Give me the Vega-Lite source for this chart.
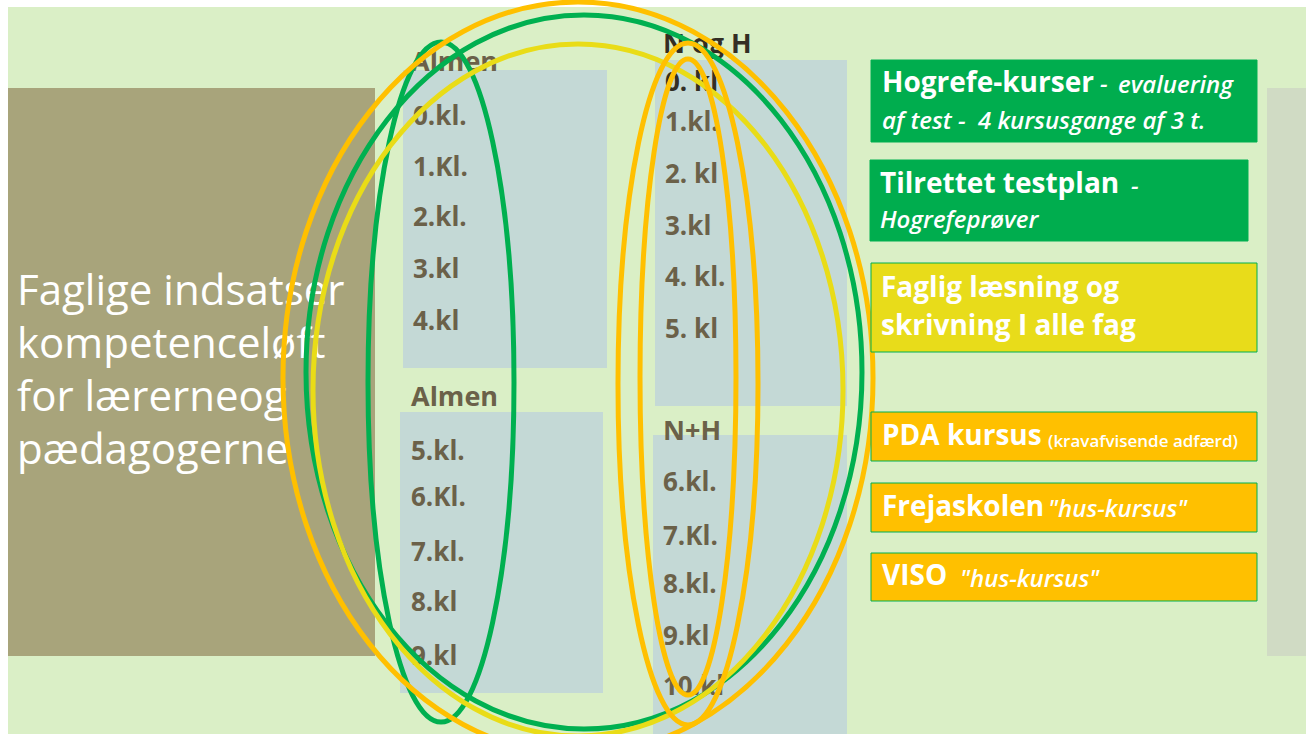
{
  "$schema": "https://vega.github.io/schema/vega-lite/v6.json",
  "autosize": {"type": "none"},
  "width": 1309,
  "height": 734,
  "padding": 0,
  "background": "#ffffff",
  "config": {"view": {"stroke": null}},
  "resolve": {"scale": {"color": "independent"}},
  "datasets": {
    "rects": [
      {"name": "bg", "kind": "bg", "x": 8, "x2": 1306, "y": 7, "y2": 734},
      {"name": "left", "kind": "brown", "x": 8, "x2": 375, "y": 88, "y2": 656},
      {"name": "strip", "kind": "strip", "x": 1267, "x2": 1306, "y": 88, "y2": 656},
      {"name": "almen1", "kind": "box", "x": 403, "x2": 607, "y": 70, "y2": 368},
      {"name": "almen2", "kind": "box", "x": 400, "x2": 603, "y": 412, "y2": 693},
      {"name": "nh1", "kind": "box", "x": 655, "x2": 847, "y": 60, "y2": 406},
      {"name": "nh2", "kind": "box", "x": 653, "x2": 847, "y": 435, "y2": 734}
    ],
    "courses": [
      {"name": "Hogrefe-kurser", "kind": "green", "x": 871, "x2": 1257, "y": 60, "y2": 142},
      {"name": "Tilrettet testplan", "kind": "green", "x": 870, "x2": 1248, "y": 160, "y2": 241},
      {"name": "Faglig læsning", "kind": "yellow", "x": 871, "x2": 1257, "y": 263, "y2": 352},
      {"name": "PDA", "kind": "orange", "x": 871, "x2": 1257, "y": 412, "y2": 461},
      {"name": "Frejaskolen", "kind": "orange", "x": 871, "x2": 1257, "y": 483, "y2": 532},
      {"name": "VISO", "kind": "orange", "x": 871, "x2": 1257, "y": 553, "y2": 601}
    ],
    "title": [
      {"text": ["Faglige indsatser", "kompetenceløft", "for lærerneog", "pædagogerne"], "x": 17, "y": 292}
    ],
    "grades": [
      {"text": "Almen", "group": "head", "x": 411, "y": 63},
      {"text": "0.kl.", "group": "grade", "x": 413, "y": 117},
      {"text": "1.Kl.", "group": "grade", "x": 413, "y": 168},
      {"text": "2.kl.", "group": "grade", "x": 413, "y": 218},
      {"text": "3.kl", "group": "grade", "x": 413, "y": 270},
      {"text": "4.kl", "group": "grade", "x": 413, "y": 322},
      {"text": "Almen", "group": "head", "x": 411, "y": 398},
      {"text": "5.kl.", "group": "grade", "x": 411, "y": 452},
      {"text": "6.Kl.", "group": "grade", "x": 411, "y": 498},
      {"text": "7.kl.", "group": "grade", "x": 411, "y": 553},
      {"text": "8.kl", "group": "grade", "x": 411, "y": 603},
      {"text": "9.kl", "group": "grade", "x": 411, "y": 657},
      {"text": "N og H", "group": "darkhead", "x": 663, "y": 45},
      {"text": "0. kl", "group": "dark", "x": 665, "y": 83},
      {"text": "1.kl.", "group": "grade", "x": 665, "y": 123},
      {"text": "2. kl", "group": "grade", "x": 665, "y": 175},
      {"text": "3.kl", "group": "grade", "x": 665, "y": 227},
      {"text": "4. kl.", "group": "grade", "x": 665, "y": 278},
      {"text": "5. kl", "group": "grade", "x": 665, "y": 330},
      {"text": "N+H", "group": "head", "x": 663, "y": 432},
      {"text": "6.kl.", "group": "grade", "x": 663, "y": 483},
      {"text": "7.Kl.", "group": "grade", "x": 663, "y": 537},
      {"text": "8.kl.", "group": "grade", "x": 663, "y": 585},
      {"text": "9.kl", "group": "grade", "x": 663, "y": 637},
      {"text": "10.kl", "group": "grade", "x": 663, "y": 687}
    ],
    "ellipses": [
      {"name": "almen", "x": 441, "y": 382},
      {"name": "outer", "x": 578, "y": 378},
      {"name": "green", "x": 584, "y": 372},
      {"name": "yellow", "x": 578, "y": 390},
      {"name": "nh_tall", "x": 688, "y": 384},
      {"name": "nh_inner", "x": 688, "y": 377}
    ],
    "coursetext": [
      {"text": "Hogrefe-kurser", "style": "big", "x": 882, "y": 84},
      {"text": "-", "style": "italic", "x": 1100, "y": 85},
      {"text": "evaluering", "style": "italic", "x": 1118, "y": 86},
      {"text": "af test -\u00a0 4 kursusgange af 3 t.", "style": "italic", "x": 882, "y": 122},
      {"text": "Tilrettet testplan", "style": "big", "x": 880, "y": 185},
      {"text": "-", "style": "italic", "x": 1131, "y": 187},
      {"text": "Hogrefeprøver", "style": "italic", "x": 880, "y": 221},
      {"text": "Faglig læsning og", "style": "big", "x": 881, "y": 289},
      {"text": "skrivning I alle fag", "style": "big", "x": 881, "y": 327},
      {"text": "PDA kursus", "style": "big", "x": 882, "y": 437},
      {"text": "(kravafvisende adfærd)", "style": "small", "x": 1048, "y": 442},
      {"text": "Frejaskolen", "style": "big", "x": 882, "y": 508},
      {"text": "\"hus-kursus\"", "style": "italic", "x": 1048, "y": 510},
      {"text": "VISO", "style": "big", "x": 882, "y": 577},
      {"text": "\"hus-kursus\"", "style": "italic", "x": 960, "y": 580}
    ]
  },
  "encoding": {
    "x": {"field": "x", "type": "quantitative", "scale": {"domain": [0, 1309], "nice": false, "zero": false}, "axis": null},
    "y": {"field": "y", "type": "quantitative", "scale": {"domain": [0, 734], "nice": false, "zero": false, "reverse": true}, "axis": null}
  },
  "layer": [
    {
      "data": {"name": "rects"},
      "mark": {"type": "rect"},
      "encoding": {
        "x2": {"field": "x2"},
        "y2": {"field": "y2"},
        "color": {"field": "kind", "type": "nominal", "legend": null,
          "scale": {"domain": ["bg", "brown", "strip", "box"], "range": ["#daefc6", "#a8a47b", "#d0dbc4", "#c4d9d6"]}}
      }
    },
    {
      "data": {"name": "title"},
      "mark": {"type": "text", "align": "left", "baseline": "middle", "font": "Open Sans", "fontSize": 42, "fontWeight": 400, "lineHeight": 53, "color": "#ffffff"},
      "encoding": {"text": {"field": "text"}}
    },
    {
      "data": {"name": "grades"},
      "transform": [{"filter": "datum.group === 'grade'"}],
      "mark": {"type": "text", "align": "left", "baseline": "middle", "font": "Open Sans", "fontSize": 26, "fontWeight": "bold", "color": "#6b6149"},
      "encoding": {"text": {"field": "text"}}
    },
    {
      "data": {"name": "grades"},
      "transform": [{"filter": "datum.group === 'head'"}],
      "mark": {"type": "text", "align": "left", "baseline": "middle", "font": "Open Sans", "fontSize": 27, "fontWeight": "bold", "color": "#6b6149"},
      "encoding": {"text": {"field": "text"}}
    },
    {
      "data": {"name": "grades"},
      "transform": [{"filter": "datum.group === 'darkhead'"}],
      "mark": {"type": "text", "align": "left", "baseline": "middle", "font": "Open Sans", "fontSize": 27, "fontWeight": "bold", "color": "#332e24"},
      "encoding": {"text": {"field": "text"}}
    },
    {
      "data": {"name": "grades"},
      "transform": [{"filter": "datum.group === 'dark'"}],
      "mark": {"type": "text", "align": "left", "baseline": "middle", "font": "Open Sans", "fontSize": 26, "fontWeight": "bold", "color": "#332e24"},
      "encoding": {"text": {"field": "text"}}
    },
    {
      "data": {"name": "ellipses"},
      "transform": [{"filter": "datum.name === 'almen'"}],
      "mark": {"type": "point", "shape": "M0,-1A0.2147,1,0,1,1,0,1A0.2147,1,0,1,1,0,-1Z", "size": 462400, "filled": false, "stroke": "#00b050", "strokeWidth": 5, "opacity": 1}
    },
    {
      "data": {"name": "ellipses"},
      "transform": [{"filter": "datum.name === 'outer'"}],
      "mark": {"type": "point", "shape": "M0,-1A0.7846,1,0,1,1,0,1A0.7846,1,0,1,1,0,-1Z", "size": 565504, "filled": false, "stroke": "#ffc000", "strokeWidth": 5, "opacity": 1}
    },
    {
      "data": {"name": "ellipses"},
      "transform": [{"filter": "datum.name === 'green'"}],
      "mark": {"type": "point", "shape": "M0,-1A0.7787,1,0,1,1,0,1A0.7787,1,0,1,1,0,-1Z", "size": 509796, "filled": false, "stroke": "#00b050", "strokeWidth": 5, "opacity": 1}
    },
    {
      "data": {"name": "ellipses"},
      "transform": [{"filter": "datum.name === 'yellow'"}],
      "mark": {"type": "point", "shape": "M0,-1A0.7659,1,0,1,1,0,1A0.7659,1,0,1,1,0,-1Z", "size": 478864, "filled": false, "stroke": "#e9dc17", "strokeWidth": 5, "opacity": 1}
    },
    {
      "data": {"name": "ellipses"},
      "transform": [{"filter": "datum.name === 'nh_tall'"}],
      "mark": {"type": "point", "shape": "M0,-1A0.2053,1,0,1,1,0,1A0.2053,1,0,1,1,0,-1Z", "size": 465124, "filled": false, "stroke": "#ffc000", "strokeWidth": 5, "opacity": 1}
    },
    {
      "data": {"name": "ellipses"},
      "transform": [{"filter": "datum.name === 'nh_inner'"}],
      "mark": {"type": "point", "shape": "M0,-1A0.1509,1,0,1,1,0,1A0.1509,1,0,1,1,0,-1Z", "size": 404496, "filled": false, "stroke": "#ffc000", "strokeWidth": 5, "opacity": 1}
    },
    {
      "data": {"name": "courses"},
      "mark": {"type": "rect", "stroke": "#00b050", "strokeWidth": 1},
      "encoding": {
        "x2": {"field": "x2"},
        "y2": {"field": "y2"},
        "color": {"field": "kind", "type": "nominal", "legend": null,
          "scale": {"domain": ["green", "yellow", "orange"], "range": ["#00ad4e", "#e8dc1a", "#ffc000"]}}
      }
    },
    {
      "data": {"name": "coursetext"},
      "transform": [{"filter": "datum.style === 'big'"}],
      "mark": {"type": "text", "align": "left", "baseline": "middle", "font": "Open Sans", "fontSize": 28, "fontWeight": "bold", "color": "#ffffff"},
      "encoding": {"text": {"field": "text"}}
    },
    {
      "data": {"name": "coursetext"},
      "transform": [{"filter": "datum.style === 'italic'"}],
      "mark": {"type": "text", "align": "left", "baseline": "middle", "font": "Open Sans", "fontSize": 24, "fontWeight": 600, "fontStyle": "italic", "color": "#ffffff"},
      "encoding": {"text": {"field": "text"}}
    },
    {
      "data": {"name": "coursetext"},
      "transform": [{"filter": "datum.style === 'small'"}],
      "mark": {"type": "text", "align": "left", "baseline": "middle", "font": "Open Sans", "fontSize": 17, "fontWeight": 600, "color": "#ffffff"},
      "encoding": {"text": {"field": "text"}}
    }
  ]
}
